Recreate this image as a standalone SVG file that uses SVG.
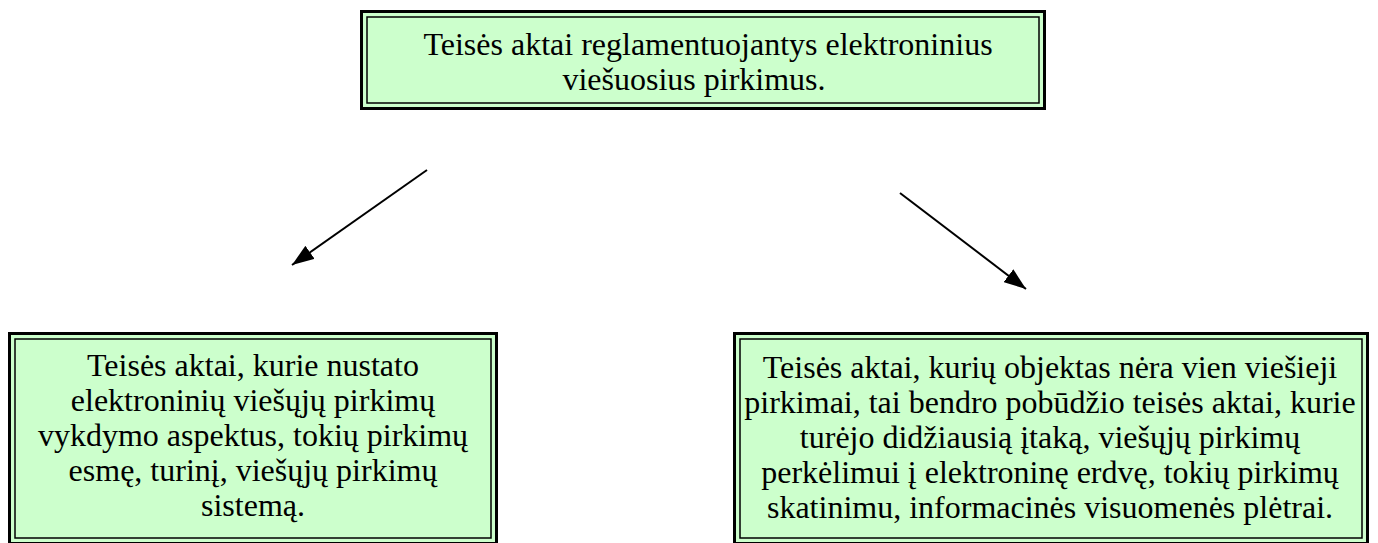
<svg xmlns="http://www.w3.org/2000/svg" width="1378" height="543" viewBox="0 0 1378 543">
<style>
.o{fill:#CCFFCC;stroke:#000;stroke-width:3}
.i{fill:none;stroke:#000;stroke-width:1.5}
.t{font-family:"Liberation Serif","Times New Roman",serif;font-size:32px;fill:#000;text-anchor:middle}
.c{stroke:#000;stroke-width:2;fill:none}
</style>
<defs>
<marker id="ah" viewBox="0 0 10 10" refX="10" refY="5" markerWidth="22" markerHeight="16" markerUnits="userSpaceOnUse" orient="auto" preserveAspectRatio="none">
<path d="M0,0 L10,5 L0,10 Z" fill="#000"/>
</marker>
</defs>
<rect width="1378" height="543" fill="#fff"/>
<g id="top">
<rect class="o" x="361.5" y="11.5" width="683" height="97"/>
<rect class="i" x="367" y="17" width="672" height="86"/>
<text class="t" x="708" y="55">Teisės aktai reglamentuojantys elektroninius</text>
<text class="t" x="694" y="90">viešuosius pirkimus.</text>
</g>
<g id="left">
<rect class="o" x="9.5" y="333.5" width="487" height="210"/>
<rect class="i" x="15" y="339" width="476" height="199"/>
<text class="t" x="253" y="376">Teisės aktai, kurie nustato</text>
<text class="t" x="253" y="411">elektroninių viešųjų pirkimų</text>
<text class="t" x="253" y="446">vykdymo aspektus, tokių pirkimų</text>
<text class="t" x="253" y="481">esmę, turinį, viešųjų pirkimų</text>
<text class="t" x="253" y="516">sistemą.</text>
</g>
<g id="right">
<rect class="o" x="734.5" y="333.5" width="633" height="210"/>
<rect class="i" x="740" y="339" width="622" height="199"/>
<text class="t" x="1050" y="378">Teisės aktai, kurių objektas nėra vien viešieji</text>
<text class="t" x="1050" y="413">pirkimai, tai bendro pobūdžio teisės aktai, kurie</text>
<text class="t" x="1050" y="448">turėjo didžiausią įtaką, viešųjų pirkimų</text>
<text class="t" x="1050" y="483">perkėlimui į elektroninę erdvę, tokių pirkimų</text>
<text class="t" x="1050" y="518">skatinimu, informacinės visuomenės plėtrai.</text>
</g>
<g id="connectors">
<path class="c" d="M427,170 L292,265" marker-end="url(#ah)"/>
<path class="c" d="M900,193 L1026,289" marker-end="url(#ah)"/>
</g>
</svg>
